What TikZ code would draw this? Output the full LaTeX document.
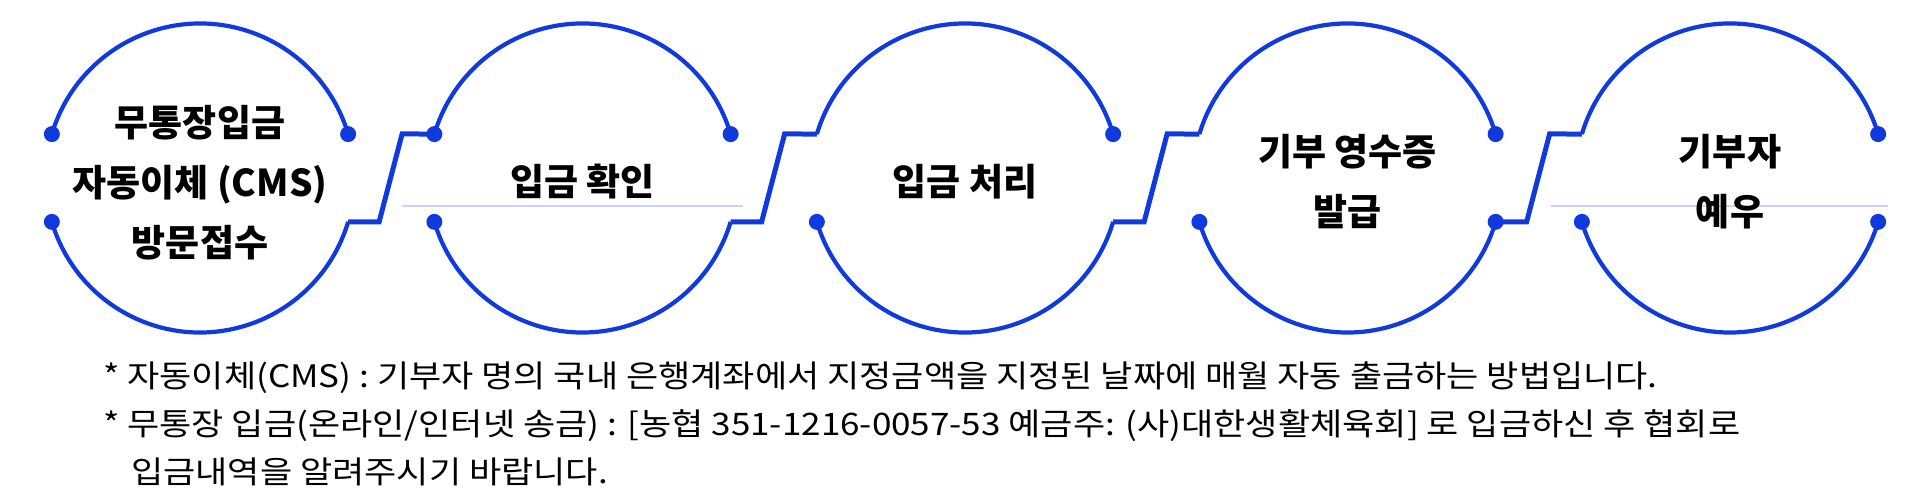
\documentclass[tikz,border=0pt]{standalone}
\usepackage{fontspec}
\newfontfamily\krfont{Noto Sans CJK KR}
\newfontfamily\krnote{Noto Sans CJK KR}[FakeStretch=1.13]
\definecolor{flowblue}{RGB}{16,58,221}
\definecolor{ghostblue}{RGB}{200,213,250}

\tikzset{
    ring arc/.style={draw=flowblue, line width=4.2},
    ring link/.style={draw=flowblue, line width=5, line join=miter},
    stage text/.style={font=\krfont\bfseries\fontsize{37}{60}\selectfont, align=center},
    note text/.style={font=\krnote\fontsize{31}{48}\selectfont, anchor=base west, inner sep=0}
    }

\begin{document}
\begin{tikzpicture}[x=1pt,y=1pt]
    \useasboundingbox (0,0) rectangle (1920,500);
    % faint guide lines left over in the source
    \draw[ghostblue, line width=1.5] (402,294) -- (743,294);
    \draw[ghostblue, line width=1.5] (1551,294) -- (1888,294);
    % The five stages: centre and the four ends of the open ring
    \foreach \i in {1,...,5}{
        \coordinate (c\i) at ({200+382.5*(\i-1)},322);
        \path (c\i) ++(163.5:154.5) coordinate (c\i-tl);
        \path (c\i) ++(16.5:154.5) coordinate (c\i-tr);
        \path (c\i) ++(196.5:154.5) coordinate (c\i-bl);
        \path (c\i) ++(343.5:154.5) coordinate (c\i-br);
        \draw[ring arc] (c\i-tr) arc[start angle=16.5, end angle=163.5, radius=154.5];
        \draw[ring arc] (c\i-bl) arc[start angle=196.5, end angle=343.5, radius=154.5];
    }
    % Steps from one stage to the next
    \foreach \i/\j in {1/2,2/3,3/4,4/5}
        \draw[ring link] (c\i-br) -- ++(31,0) -- ++(23,88) -- (c\j-tl);
    % End dots
    \foreach \p in {c1-tl,c1-tr,c1-bl,c2-tl,c2-tr,c2-bl,c3-tr,c3-bl,
                    c4-tr,c4-bl,c4-br,c5-tr,c5-bl,c5-br}
        \fill[flowblue] (\p) circle[radius=8];
    % Labels
    \node[stage text] (t1) at ([yshift=-5]c1) {무통장입금\\자동이체 (CMS)\\방문접수};
    \node[stage text] (t2) at ([yshift=-4]c2) {입금 확인};
    \node[stage text] (t3) at ([yshift=-4]c3) {입금 처리};
    \node[stage text] (t4) at ([yshift=-4]c4) {기부 영수증\\발급};
    \node[stage text] (t5) at ([yshift=-4]c5) {기부자\\예우};
    % Notes
    \node[note text] (n1) at (103,112) {* 자동이체(CMS) : 기부자 명의 국내 은행계좌에서 지정금액을 지정된 날짜에 매월 자동 출금하는 방법입니다.};
    \node[note text] (n2) at (103,64) {* 무통장 입금(온라인/인터넷 송금) : [농협 351-1216-0057-53 예금주: (사)대한생활체육회] 로 입금하신 후 협회로};
    \node[note text] (n3) at (131,16) {입금내역을 알려주시기 바랍니다.};
\end{tikzpicture}
\end{document}
